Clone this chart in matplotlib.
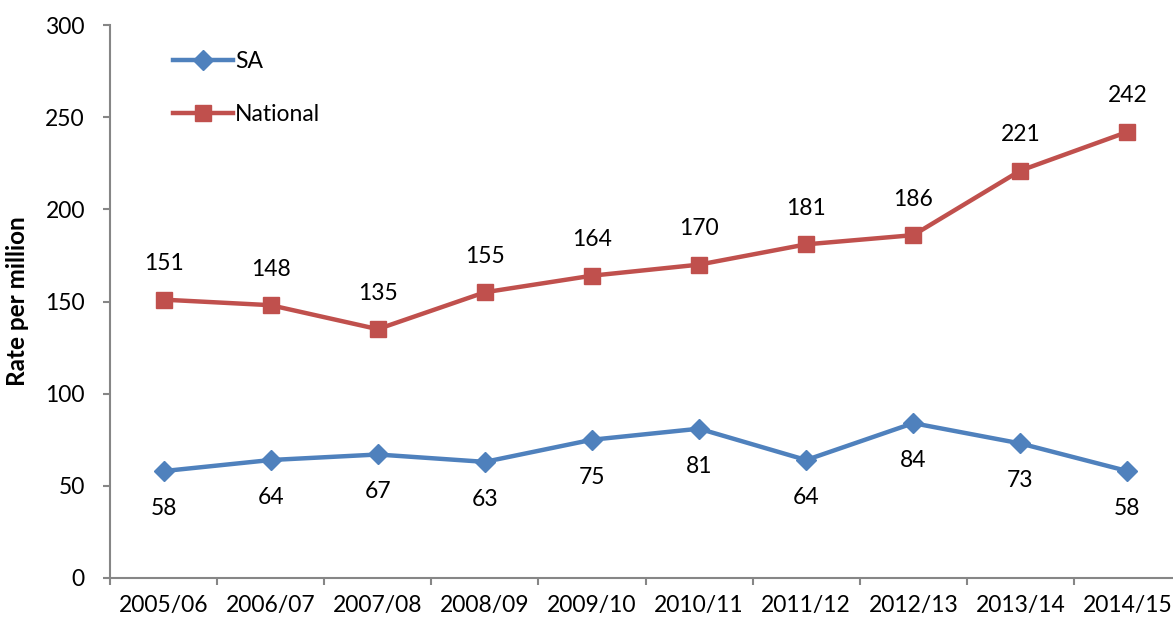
import matplotlib.pyplot as plt
from matplotlib.lines import Line2D

years = ['2005/06', '2006/07', '2007/08', '2008/09', '2009/10',
         '2010/11', '2011/12', '2012/13', '2013/14', '2014/15']
sa = [58, 64, 67, 63, 75, 81, 64, 84, 73, 58]
national = [151, 148, 135, 155, 164, 170, 181, 186, 221, 242]

blue = '#4F81BD'
red = '#C0504D'
grey = '#868686'

plt.rcParams['font.family'] = ['Lato', 'DejaVu Sans']

dpi = 100
fig = plt.figure(figsize=(1173 / dpi, 621 / dpi), dpi=dpi)
ax = fig.add_axes([110 / 1173, 43 / 621, 1071 / 1173, 553 / 621])

xs = range(len(years))
ax.plot(xs, sa, color=blue, lw=3.2, marker='D', ms=10, label='SA')
ax.plot(xs, national, color=red, lw=3.2, marker='s', ms=11, label='National')

for x, v in zip(xs, national):
    ax.annotate(str(v), (x, v), xytext=(0, 26), textcoords='offset points',
                ha='center', va='center', fontsize=16.5)
for x, v in zip(xs, sa):
    ax.annotate(str(v), (x, v), xytext=(0, -27), textcoords='offset points',
                ha='center', va='center', fontsize=16.5)

ax.set_xlim(-0.5, len(years) - 0.5)
ax.set_ylim(0, 300)
ax.set_yticks(range(0, 301, 50))
ax.set_xticks([i - 0.5 for i in range(len(years) + 1)])
ax.set_xticklabels([])
ax.set_xticks(list(xs), minor=True)
ax.set_xticklabels(years, minor=True)
ax.tick_params(axis='x', which='minor', length=0, pad=12, labelsize=16.5)
ax.tick_params(axis='x', which='major', length=5, color=grey, width=1.5)
ax.tick_params(axis='y', length=5, color=grey, width=1.5, labelsize=16.5, pad=13)

for s in ['top', 'right']:
    ax.spines[s].set_visible(False)
for s in ['left', 'bottom']:
    ax.spines[s].set_color(grey)
    ax.spines[s].set_linewidth(1.5)

ax.set_ylabel('Rate per million', fontsize=17.5, fontweight='bold', labelpad=12)

handles = [Line2D([], [], color=blue, lw=3.2, marker='D', ms=10),
           Line2D([], [], color=red, lw=3.2, marker='s', ms=11)]
ax.legend(handles, ['SA', 'National'], loc='upper left',
          bbox_to_anchor=(0.04, 0.99), frameon=False, fontsize=16.5,
          handlelength=2.6, handletextpad=0.1, labelspacing=1.4)

fig.savefig('out.png', dpi=dpi)
